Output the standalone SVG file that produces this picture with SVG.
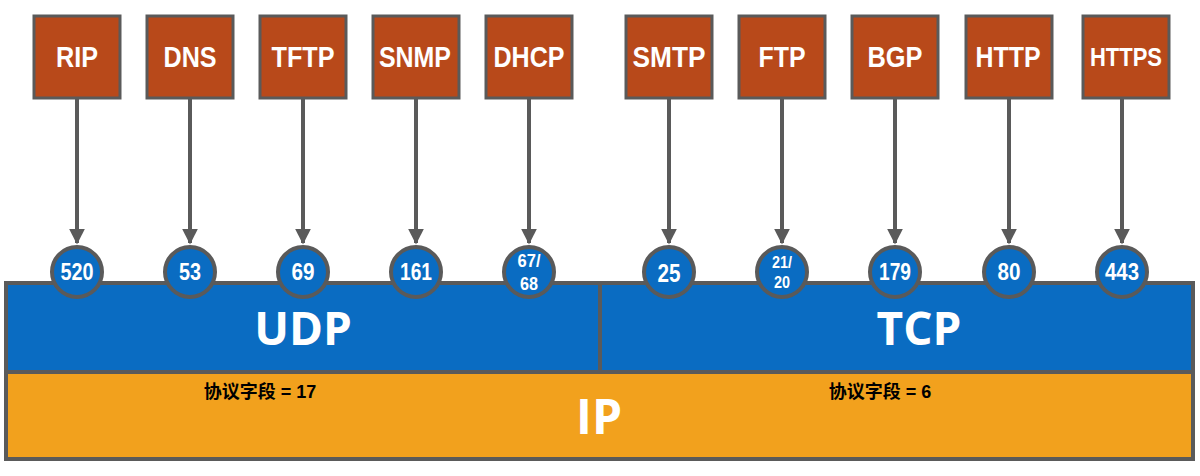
<svg xmlns="http://www.w3.org/2000/svg" width="1200" height="476" viewBox="0 0 1200 476">
<style>
.box{fill:#B8491A;stroke:#5A5A5A;stroke-width:3}
.lbl{font-family:"Liberation Sans",Arial,sans-serif;font-weight:bold;fill:#fff;text-anchor:middle}
.port{fill:#0A6CC2;stroke:#5A5A5A;stroke-width:4}
.conn{stroke:#5A5A5A;stroke-width:4;fill:none}
.big{font-family:"Open Sans","Liberation Sans",sans-serif;font-weight:bold;fill:#fff;text-anchor:middle}
.cn{font-family:"Liberation Sans","Noto Sans CJK SC",sans-serif;font-weight:bold;fill:#000;font-size:18px;text-anchor:middle}
</style>
<defs>
<marker id="ah" viewBox="0 0 10 10" refX="9" refY="5" markerWidth="4" markerHeight="4" orient="auto" markerUnits="strokeWidth">
<path d="M0,0 L10,5 L0,10 z" fill="#5A5A5A"/>
</marker>
</defs>
<rect width="1200" height="476" fill="#fff"/>
<g id="ip"><rect x="6" y="372" width="1187" height="87" fill="#F2A11D" stroke="#5A5A5A" stroke-width="4"/>
<text class="big" x="599" y="434" font-size="48">IP</text>
<text class="cn" x="260" y="398">协议字段 = 17</text>
<text class="cn" x="880" y="398">协议字段 = 6</text></g>
<g id="udp"><rect x="6" y="283" width="594" height="89" fill="#0A6CC2" stroke="#5A5A5A" stroke-width="4"/>
<text class="big" x="303" y="345" font-size="46">UDP</text></g>
<g id="tcp"><rect x="600" y="283" width="593" height="89" fill="#0A6CC2" stroke="#5A5A5A" stroke-width="4"/>
<text class="big" x="919" y="345" font-size="46">TCP</text></g>
<g id="connectors">
<line class="conn" x1="77" y1="99" x2="77" y2="243" marker-end="url(#ah)"/>
<line class="conn" x1="190" y1="99" x2="190" y2="243" marker-end="url(#ah)"/>
<line class="conn" x1="303" y1="99" x2="303" y2="243" marker-end="url(#ah)"/>
<line class="conn" x1="416" y1="99" x2="416" y2="243" marker-end="url(#ah)"/>
<line class="conn" x1="529" y1="99" x2="529" y2="243" marker-end="url(#ah)"/>
<line class="conn" x1="669" y1="99" x2="669" y2="243" marker-end="url(#ah)"/>
<line class="conn" x1="782" y1="99" x2="782" y2="243" marker-end="url(#ah)"/>
<line class="conn" x1="895" y1="99" x2="895" y2="243" marker-end="url(#ah)"/>
<line class="conn" x1="1009" y1="99" x2="1009" y2="243" marker-end="url(#ah)"/>
<line class="conn" x1="1122" y1="99" x2="1122" y2="243" marker-end="url(#ah)"/>
</g>
<g id="rip"><rect class="box" x="34" y="16" width="86" height="82"/><text class="lbl" x="77" y="67" font-size="30" textLength="42" lengthAdjust="spacingAndGlyphs">RIP</text></g>
<g id="dns"><rect class="box" x="147" y="16" width="86" height="82"/><text class="lbl" x="190" y="67" font-size="30" textLength="53" lengthAdjust="spacingAndGlyphs">DNS</text></g>
<g id="tftp"><rect class="box" x="260" y="16" width="86" height="82"/><text class="lbl" x="303" y="67" font-size="30" textLength="63" lengthAdjust="spacingAndGlyphs">TFTP</text></g>
<g id="snmp"><rect class="box" x="373" y="16" width="86" height="82"/><text class="lbl" x="415" y="67" font-size="30" textLength="72" lengthAdjust="spacingAndGlyphs">SNMP</text></g>
<g id="dhcp"><rect class="box" x="486" y="16" width="86" height="82"/><text class="lbl" x="529" y="67" font-size="30" textLength="71" lengthAdjust="spacingAndGlyphs">DHCP</text></g>
<g id="smtp"><rect class="box" x="626" y="16" width="86" height="82"/><text class="lbl" x="669" y="67" font-size="30" textLength="73" lengthAdjust="spacingAndGlyphs">SMTP</text></g>
<g id="ftp"><rect class="box" x="739" y="16" width="86" height="82"/><text class="lbl" x="782" y="67" font-size="30" textLength="47" lengthAdjust="spacingAndGlyphs">FTP</text></g>
<g id="bgp"><rect class="box" x="852" y="16" width="86" height="82"/><text class="lbl" x="895" y="67" font-size="30" textLength="55" lengthAdjust="spacingAndGlyphs">BGP</text></g>
<g id="http"><rect class="box" x="966" y="16" width="86" height="82"/><text class="lbl" x="1008" y="67" font-size="30" textLength="65" lengthAdjust="spacingAndGlyphs">HTTP</text></g>
<g id="https"><rect class="box" x="1083" y="16" width="86" height="82"/><text class="lbl" x="1126" y="66" font-size="25" textLength="72" lengthAdjust="spacingAndGlyphs">HTTPS</text></g>
<g id="p520"><circle class="port" cx="77" cy="272" r="25"/><text class="lbl" x="77" y="280" font-size="23" textLength="33" lengthAdjust="spacingAndGlyphs">520</text></g>
<g id="p53"><circle class="port" cx="190" cy="272" r="25"/><text class="lbl" x="190" y="280" font-size="23" textLength="22" lengthAdjust="spacingAndGlyphs">53</text></g>
<g id="p69"><circle class="port" cx="303" cy="272" r="25"/><text class="lbl" x="303" y="280" font-size="23" textLength="23" lengthAdjust="spacingAndGlyphs">69</text></g>
<g id="p161"><circle class="port" cx="416" cy="272" r="25"/><text class="lbl" x="416" y="280" font-size="23" textLength="32" lengthAdjust="spacingAndGlyphs">161</text></g>
<g id="p6768"><circle class="port" cx="529" cy="272" r="25"/><text class="lbl" x="529" y="267" font-size="19" textLength="23" lengthAdjust="spacingAndGlyphs">67/</text><text class="lbl" x="529" y="290" font-size="19" textLength="18" lengthAdjust="spacingAndGlyphs">68</text></g>
<g id="p25"><circle class="port" cx="669" cy="272" r="25"/><text class="lbl" x="669" y="282" font-size="26" textLength="23" lengthAdjust="spacingAndGlyphs">25</text></g>
<g id="p2120"><circle class="port" cx="782" cy="272" r="25"/><text class="lbl" x="782" y="268" font-size="16" textLength="20" lengthAdjust="spacingAndGlyphs">21/</text><text class="lbl" x="782" y="288" font-size="16" textLength="16" lengthAdjust="spacingAndGlyphs">20</text></g>
<g id="p179"><circle class="port" cx="895" cy="272" r="25"/><text class="lbl" x="895" y="280" font-size="23" textLength="32" lengthAdjust="spacingAndGlyphs">179</text></g>
<g id="p80"><circle class="port" cx="1009" cy="272" r="25"/><text class="lbl" x="1009" y="280" font-size="23" textLength="23" lengthAdjust="spacingAndGlyphs">80</text></g>
<g id="p443"><circle class="port" cx="1122" cy="272" r="25"/><text class="lbl" x="1122" y="280" font-size="23" textLength="34" lengthAdjust="spacingAndGlyphs">443</text></g>
</svg>
